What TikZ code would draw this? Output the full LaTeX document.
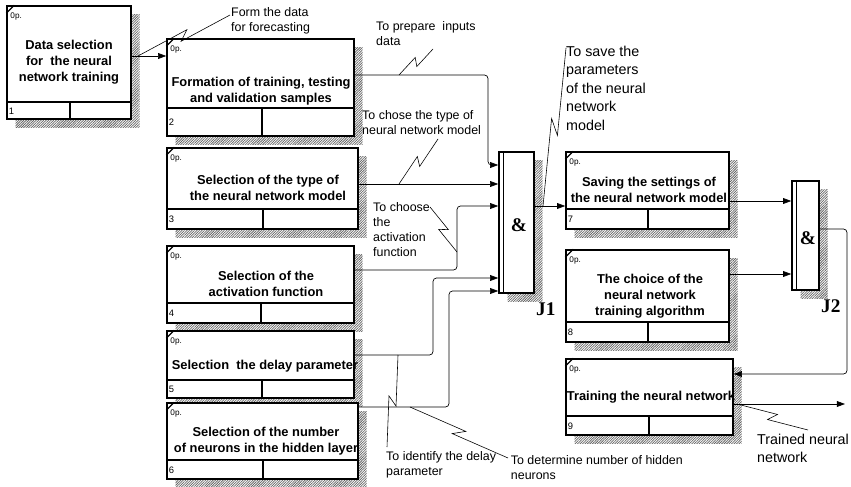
\documentclass[tikz,border=0pt]{standalone}
\usepackage{fontspec}
\setmainfont{Liberation Sans}
\newfontfamily\jfont{Liberation Serif}
\usetikzlibrary{fit,% box nodes around their corners
calc,%               points along the squiggles
arrows.meta,
patterns.meta}
\tikzset{every node/.style={inner sep=0pt},
  funcbox/.style={draw,line width=1.3pt,fill=white},
  jbox/.style={draw,line width=1.3pt,fill=white},
  boxshadow/.style={pattern={Lines[angle=45,distance=1.5pt,line width=0.65pt]},pattern color=gray!80!black},
  boxtitle/.style={font=\fontsize{11}{13.5}\selectfont\bfseries,align=center},
  note/.style={font=\fontsize{10.6}{12.8}\selectfont,align=left,anchor=north west},
  bignote/.style={font=\fontsize{12.2}{15.7}\selectfont,align=left,anchor=north west},
  flow/.style={line width=0.6pt,rounded corners=3pt,-{Triangle[length=7pt,width=5pt]}}}
% name, top left, bottom right, divider y, cell x, number
\newcommand{\funcbox}[6]{%
  \fill[boxshadow] ($(#2)+(8.5,8.5)$) rectangle ($(#3)+(8.5,8.5)$);
  \node[funcbox,fit={(#2) (#3)}] (#1) {};
  \coordinate (#1d) at (#1.west |- 0,#4);
  \draw[line width=1.3pt] (#1d) -- (#1.east |- 0,#4);
  \draw[line width=1.3pt] (#1.south -| #5,#4) -- (#5,#4);
  \draw[line width=1pt] ($(#1.north west)+(0,8)$) -- ($(#1.north west)+(8,0)$);
  \node[font=\fontsize{7}{8}\selectfont,anchor=north west] (#1op) at ($(#1.north west)+(4,7.5)$) {0p.};
  \node[font=\fontsize{8}{9}\selectfont,anchor=west] (#1n) at ($(#1d)!0.5!(#1.south west)+(2.5,0)$) {#6};}
% name, top left, bottom right, label
\newcommand{\junction}[4]{%
  \fill[boxshadow] ($(#2)+(8.5,8.5)$) rectangle ($(#3)+(8.5,8.5)$);
  \node[jbox,fit={(#2) (#3)}] (#1) {};
  \draw[line width=1pt] ($(#1.north west)+(5,0)$) -- ($(#1.south west)+(5,0)$);
  \node[font=\jfont\bfseries\fontsize{16.5}{16.5}\selectfont] (#1amp) at ($(#1.center)+(2.5,2.5)$) {\&};
  \node[font=\jfont\bfseries\fontsize{16.5}{16.5}\selectfont] (#1lab) at ($(#1.south east)+(11,15)$) {#4};}
\newcommand{\squiggle}[2]{%
  \draw[line width=0.5pt] (#1) -- ($(#1)!0.55!(#2)!3.5pt!90:(#2)$)
     -- ($(#1)!0.45!(#2)!3.5pt!-90:(#2)$) -- (#2);}

\begin{document}
\begin{tikzpicture}[x=0.03cm,y=-0.03cm]
  \useasboundingbox (0,0) rectangle (851,487);
  % activity boxes
  \funcbox{b1}{7,6}{131,119}{102}{70}{1}
  \funcbox{b2}{167,39}{354,136}{108}{262}{2}
  \funcbox{b3}{167,148}{358,229}{209}{263}{3}
  \funcbox{b4}{167,246}{354,323}{303}{261}{4}
  \funcbox{b5}{167,331}{354,398}{380}{262}{5}
  \funcbox{b6}{167,403}{358,479}{460}{263}{6}
  \funcbox{b7}{566,152}{729,229}{209}{648}{7}
  \funcbox{b8}{566,250}{729,342}{322}{648}{8}
  \funcbox{b9}{566,359}{733,435}{416}{649}{9}
  \node[boxtitle] (b1t) at (69,62) {Data selection\\for\ \ the neural\\network training};
  \node[boxtitle] (b2t) at (261,91) {Formation of training, testing\\and validation samples};
  \node[boxtitle] (b3t) at (268,188) {Selection of the type of\\the neural network model};
  \node[boxtitle] (b4t) at (266,284) {Selection of the\\activation function};
  \node[boxtitle] (b5t) at (265,366) {Selection\ \ the delay parameter};
  \node[boxtitle] (b6t) at (266,441) {Selection of the number\\of neurons in the hidden layer};
  \node[boxtitle] (b7t) at (649,190) {Saving the settings of\\the neural network model};
  \node[boxtitle] (b8t) at (650,296) {The choice of the\\neural network\\training algorithm};
  \node[boxtitle] (b9t) at (651,397) {Training the neural network};
  % junctions
  \junction{j1}{499,152}{534,293}{J1}
  \junction{j2}{792,181}{819,290}{J2}
  % arrows
  \draw[flow] (b1.east |- 0,56) -- (b2.west |- 0,56);
  \draw[flow] (b2.east |- 0,75) -| (488,165) -- (j1.west |- 0,165);
  \draw[flow] (b3.east |- 0,184) -- (j1.west |- 0,184);
  \draw[flow] (b4.east |- 0,270) -| (457,206) -- (j1.west |- 0,206);
  \draw[flow] (b5.east |- 0,355) -| (433,278) -- (j1.west |- 0,278);
  \draw[flow] (b6.east |- 0,407) -| (449,291) -- (j1.west |- 0,291);
  \draw[flow] (j1.east |- 0,206) -- (b7.west |- 0,206);
  \draw[flow] (b7.east |- 0,201) -- (j2.west |- 0,201);
  \draw[flow] (b8.east |- 0,274) -- (j2.west |- 0,274);
  \draw[flow] (j2.east |- 0,229) -| (847,374) -- (b9.east |- 0,374);
  \coordinate (out) at (845,404);
  \draw[flow] (b9.east |- 0,404) -- (out);
  % arrow labels
  \node[note] (l1) at (231,7.5) {Form the data\\for forecasting};
  \node[note] (l2) at (376,21.5) {To prepare\ \ inputs\\data};
  \node[note] (l3) at (362,110.5) {To chose the type of\\neural network model};
  \node[note] (l4) at (373,202) {To choose\\the\\activation\\function};
  \node[note] (l5) at (386,451.5) {To identify the delay\\parameter};
  \node[note] (l6) at (510.7,455.5) {To determine number of hidden\\neurons};
  \node[bignote] (l7) at (566,46) {To save the\\parameters\\of the neural\\network\\model};
  \node[bignote] (l8) at (757,434) {Trained neural\\network};
  \coordinate (s1a) at (230,15);  \coordinate (s1b) at (138,56);
  \coordinate (s2a) at (433,49);  \coordinate (s2b) at (399,75);
  \coordinate (s3a) at (438,139); \coordinate (s3b) at (399,184);
  \coordinate (s4a) at (430,207); \coordinate (s4b) at (457,252);
  \coordinate (s5a) at (387,447); \coordinate (s5b) at (398,355);
  \coordinate (s6a) at (508,458); \coordinate (s6b) at (410,407);
  \coordinate (s7a) at (566,48);  \coordinate (s7b) at (543,206);
  \coordinate (s8a) at (808,430); \coordinate (s8b) at (737,404);
  \foreach \s in {1,...,8} \squiggle{s\s a}{s\s b};
\end{tikzpicture}
\end{document}
